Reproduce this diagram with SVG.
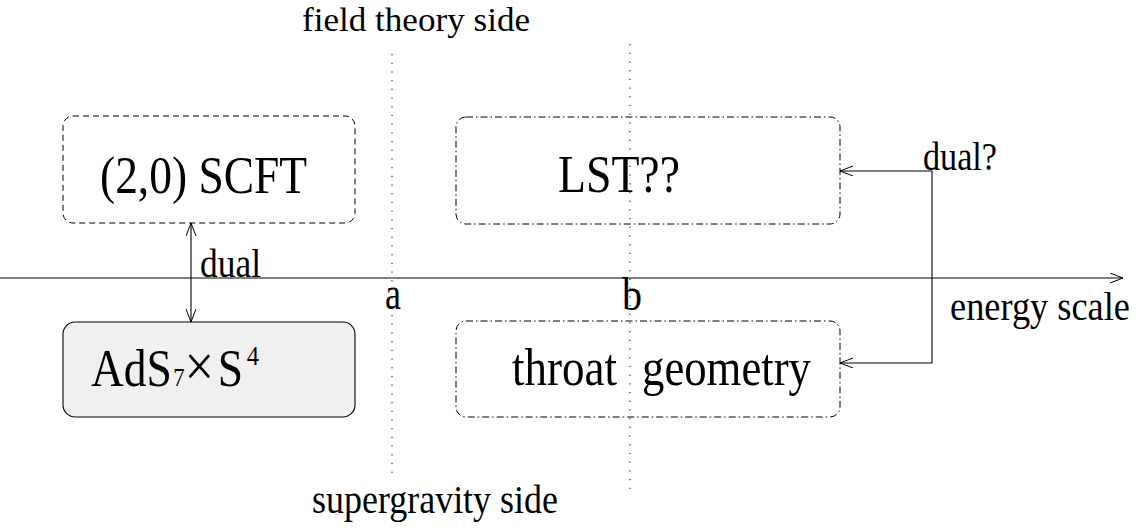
<svg xmlns="http://www.w3.org/2000/svg" width="1144" height="532" viewBox="0 0 1144 532">
<defs>
<marker id="open" markerUnits="userSpaceOnUse" markerWidth="16" markerHeight="12" refX="13" refY="5" orient="auto-start-reverse" viewBox="0 0 16 12">
<path d="M0,0 L13,5 L0,10" fill="none" stroke="#000" stroke-width="1"/>
</marker>
<style>
.t{font-family:"Liberation Serif","Times New Roman",serif;fill:#000}
.s{font-size:39px}
.l{font-size:52px}
.ln{stroke:#000;stroke-width:1.1;fill:none}
.dot{stroke:#000;stroke-width:1;stroke-dasharray:1.2 7.5;fill:none}
.dash{fill:none;stroke:#000;stroke-width:1;stroke-dasharray:6 4}
.dd{fill:none;stroke:#000;stroke-width:1;stroke-dasharray:7 3 1.5 3}
</style>
</defs>
<rect width="1144" height="532" fill="#fff"/>
<g id="axis">
<line class="ln" x1="0" y1="278" x2="1123" y2="278" marker-end="url(#open)"/>
<text class="t s" x="950" y="320" textLength="180" lengthAdjust="spacingAndGlyphs">energy scale</text>
</g>
<g id="line-a">
<line class="dot" x1="392" y1="54" x2="392" y2="478"/>
<text class="t" x="385" y="309" font-size="46" textLength="16" lengthAdjust="spacingAndGlyphs">a</text>
</g>
<g id="line-b">
<line class="dot" x1="630" y1="44" x2="630" y2="494"/>
<text class="t" x="622" y="310" font-size="46" textLength="20" lengthAdjust="spacingAndGlyphs">b</text>
</g>
<g id="labels">
<text class="t" x="302" y="31" font-size="34" textLength="228" lengthAdjust="spacingAndGlyphs">field theory side</text>
<text class="t s" x="312" y="513" textLength="246" lengthAdjust="spacingAndGlyphs">supergravity side</text>
</g>
<g id="scft">
<rect class="dash" x="63" y="116" width="292" height="107" rx="10"/>
<text class="t l" x="100" y="193" textLength="207" lengthAdjust="spacingAndGlyphs">(2,0) SCFT</text>
</g>
<g id="ads">
<rect x="63" y="322" width="292" height="95" rx="12" fill="#f0f0f0" stroke="#000" stroke-width="1.1"/>
<text class="t l" transform="translate(91,386) scale(0.875,1)"><tspan x="0" y="0">AdS</tspan><tspan x="94" y="0" font-size="26">7</tspan><tspan x="107" y="0" font-size="60">×</tspan><tspan x="145" y="0">S</tspan><tspan x="178" y="-21" font-size="28">4</tspan></text>
</g>
<g id="lst">
<rect class="dd" x="456" y="117" width="384" height="107" rx="10"/>
<text class="t l" x="558" y="192" textLength="122" lengthAdjust="spacingAndGlyphs">LST??</text>
</g>
<g id="throat">
<rect class="dd" x="456" y="321" width="384" height="96" rx="10"/>
<text class="t l" x="512" y="385" textLength="105" lengthAdjust="spacingAndGlyphs">throat</text>
<text class="t l" x="642" y="385" textLength="169" lengthAdjust="spacingAndGlyphs">geometry</text>
</g>
<g id="connectors">
<line class="ln" x1="191" y1="223" x2="191" y2="322" marker-start="url(#open)" marker-end="url(#open)"/>
<text class="t s" x="200" y="277" textLength="61" lengthAdjust="spacingAndGlyphs">dual</text>
<path class="ln" d="M932,171 L840,171" marker-end="url(#open)"/>
<path class="ln" d="M932,171 L932,363 L840,363" marker-end="url(#open)"/>
<text class="t s" x="923" y="170" textLength="74" lengthAdjust="spacingAndGlyphs">dual?</text>
</g>
</svg>
